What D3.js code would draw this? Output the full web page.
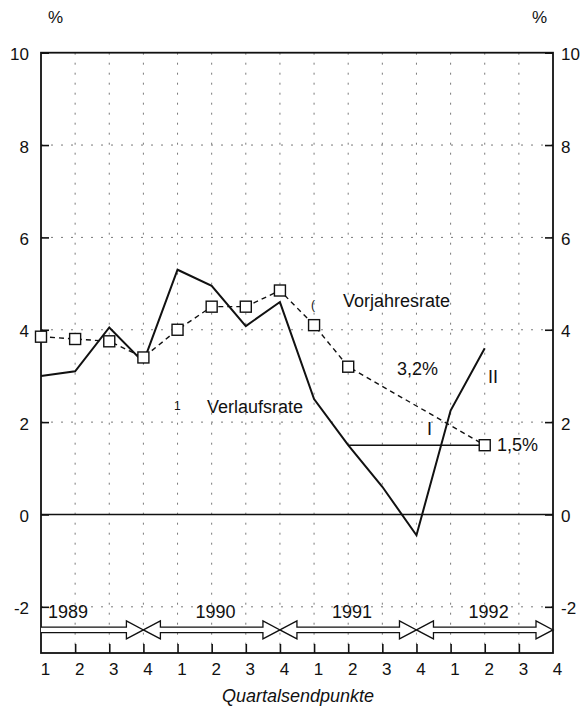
<!DOCTYPE html>
<html>
<head>
<meta charset="utf-8">
<script src="https://cdn.jsdelivr.net/npm/d3@7"></script>
<style>
  html, body { margin: 0; padding: 0; background: #fff; }
  svg { display: block; font-family: "Liberation Sans", Arial, Helvetica, sans-serif; }
</style>
</head>
<body>
<svg id="chart" width="583" height="710"></svg>
<script>
// ---- data ----
const quarterLabels = ["1","2","3","4","1","2","3","4","1","2","3","4","1","2","3","4"];
const yTicks = [-2, 0, 2, 4, 6, 8, 10];
const gridY = [-2, 2, 4, 6, 8];
// Verlaufsrate (solid), quarter index 0..13
const verlaufsrate = [3.0, 3.1, 4.05, 3.3, 5.3, 4.95, 4.08, 4.6, 2.5, 1.5, 0.6, -0.45, 2.25, 3.6];
// Vorjahresrate (dashed, squares); null = no value
const vorjahresrate = [3.85, 3.8, 3.75, 3.4, 4.0, 4.5, 4.5, 4.85, 4.1, 3.2, null, null, null, 1.5];
// horizontal reference segment at 1.5 from quarter 9 to 13
const refLevel = 1.5, refFrom = 9, refTo = 13;
const years = ["1989", "1990", "1991", "1992"];
const yearSpans = [[0, 3], [3, 7], [7, 11], [11, 15]];

// ---- layout ----
const svg = d3.select("#chart");
const L = 41, R = 553, T = 52.7, B = 653;
const x = d3.scalePoint().domain(d3.range(quarterLabels.length)).range([L, R]);
const y = d3.scaleLinear().domain([-3, 10]).range([B, T]);

// grid
const grid = svg.append("g").attr("stroke", "#333").attr("stroke-width", 1)
  .attr("stroke-dasharray", "2,8").attr("opacity", 0.65);
grid.selectAll("line.h").data(gridY).join("line")
  .attr("x1", L).attr("x2", R).attr("y1", d => y(d)).attr("y2", d => y(d));
grid.selectAll("line.v").data(d3.range(1, quarterLabels.length - 1)).join("line")
  .attr("x1", d => x(d)).attr("x2", d => x(d)).attr("y1", T).attr("y2", B);

// zero line
svg.append("line").attr("x1", L).attr("x2", R).attr("y1", y(0)).attr("y2", y(0))
  .attr("stroke", "#111").attr("stroke-width", 1.6);

// frame
svg.append("rect").attr("x", L).attr("y", T).attr("width", R - L).attr("height", B - T)
  .attr("fill", "none").attr("stroke", "#111").attr("stroke-width", 1.8);

// axes (ticks inward)
const fmt = d => String(d);
const leftAxis = d3.axisLeft(y).tickValues(yTicks).tickSize(-8).tickPadding(12).tickFormat(fmt);
const gL = svg.append("g").attr("transform", `translate(${L},0)`).call(leftAxis);
const rightAxis = d3.axisRight(y).tickValues(yTicks).tickSize(-8).tickPadding(8).tickFormat(fmt);
const gR = svg.append("g").attr("transform", `translate(${R},0)`).call(rightAxis);
const bottomAxis = d3.axisBottom(x).tickSize(-9).tickPadding(10).tickFormat(i => quarterLabels[i]);
const gB = svg.append("g").attr("transform", `translate(0,${B})`).call(bottomAxis);
[gL, gR, gB].forEach(g => {
  g.select(".domain").remove();
  g.selectAll(".tick line").attr("stroke", "#111").attr("stroke-width", 1.6);
  g.selectAll(".tick text").attr("fill", "#111").attr("font-family", "Liberation Sans, Arial, sans-serif");
});
gL.selectAll(".tick text").attr("font-size", 17).attr("dy", "0.42em");
gR.selectAll(".tick text").attr("font-size", 17).attr("dy", "0.42em");
gB.selectAll(".tick text").attr("font-size", 17).attr("dx", 4).attr("dy", "0.71em");
gB.selectAll(".tick").filter(i => i === 0 || i === quarterLabels.length - 1).select("line").remove();

// % labels
svg.append("text").attr("x", 48).attr("y", 23).attr("font-size", 17).attr("fill", "#111").text("%");
svg.append("text").attr("x", 532).attr("y", 23).attr("font-size", 17).attr("fill", "#111").text("%");

// horizontal reference segment
svg.append("line").attr("x1", x(refFrom)).attr("x2", x(refTo))
  .attr("y1", y(refLevel)).attr("y2", y(refLevel))
  .attr("stroke", "#111").attr("stroke-width", 1.5);

// Vorjahresrate dashed line
const vj = vorjahresrate.map((v, i) => ({i, v})).filter(d => d.v !== null);
svg.append("path").datum(vj)
  .attr("d", d3.line().x(d => x(d.i)).y(d => y(d.v)))
  .attr("fill", "none").attr("stroke", "#111").attr("stroke-width", 1.4)
  .attr("stroke-dasharray", "5,4");

// Verlaufsrate solid line
svg.append("path").datum(verlaufsrate.map((v, i) => ({i, v})))
  .attr("d", d3.line().x(d => x(d.i)).y(d => y(d.v)))
  .attr("fill", "none").attr("stroke", "#111").attr("stroke-width", 2)
  .attr("stroke-linejoin", "miter");

// squares
const s = 11;
svg.selectAll("rect.sq").data(vj).join("rect")
  .attr("x", d => x(d.i) - s / 2).attr("y", d => y(d.v) - s / 2)
  .attr("width", s).attr("height", s)
  .attr("fill", "#fff").attr("stroke", "#111").attr("stroke-width", 1.4);

// annotations
const ann = svg.append("g").attr("fill", "#111").attr("font-size", 18);
ann.append("text").attr("x", 343).attr("y", 307).text("Vorjahresrate");
ann.append("text").attr("x", 207).attr("y", 413).text("Verlaufsrate");
ann.append("text").attr("x", 397).attr("y", 375).text("3,2%");
ann.append("text").attr("x", 497).attr("y", 451).text("1,5%");
ann.append("text").attr("x", 488).attr("y", 383).text("II");
ann.append("text").attr("x", 427).attr("y", 435).text("I");
ann.append("text").attr("x", 174).attr("y", 410).attr("font-size", 12).text("1");
ann.append("text").attr("x", 311).attr("y", 309).attr("font-size", 12).text("(");

// year arrows
const c = y(-2.5), H = 9, h = 2.7, AL = 17;
const arrowPath = (x1, x2, leftHead) => {
  const p = d3.path();
  if (leftHead) {
    p.moveTo(x1, c); p.lineTo(x1 + AL, c - H); p.lineTo(x1 + AL, c - h);
  } else {
    p.moveTo(x1, c - h);
  }
  p.lineTo(x2 - AL, c - h); p.lineTo(x2 - AL, c - H); p.lineTo(x2, c);
  p.lineTo(x2 - AL, c + H); p.lineTo(x2 - AL, c + h);
  if (leftHead) {
    p.lineTo(x1 + AL, c + h); p.lineTo(x1 + AL, c + H); p.closePath();
  } else {
    p.lineTo(x1, c + h);
  }
  return p.toString();
};
svg.selectAll("path.arrow").data(yearSpans).join("path")
  .attr("d", (d, k) => arrowPath(x(d[0]), x(d[1]), k > 0))
  .attr("fill", "#fff").attr("stroke", "#111").attr("stroke-width", 1.3)
  .attr("stroke-linejoin", "miter");
svg.selectAll("text.year").data(years).join("text")
  .attr("x", (d, k) => k === 0 ? x(yearSpans[k][0]) + 7 : x(yearSpans[k][0] + 1) + 18)
  .attr("y", 618).attr("font-size", 18).attr("fill", "#111").text(d => d);

// x title
svg.append("text").attr("x", 298).attr("y", 702).attr("text-anchor", "middle")
  .attr("font-size", 18).attr("font-style", "italic").attr("fill", "#111")
  .text("Quartalsendpunkte");
</script>
</body>
</html>
